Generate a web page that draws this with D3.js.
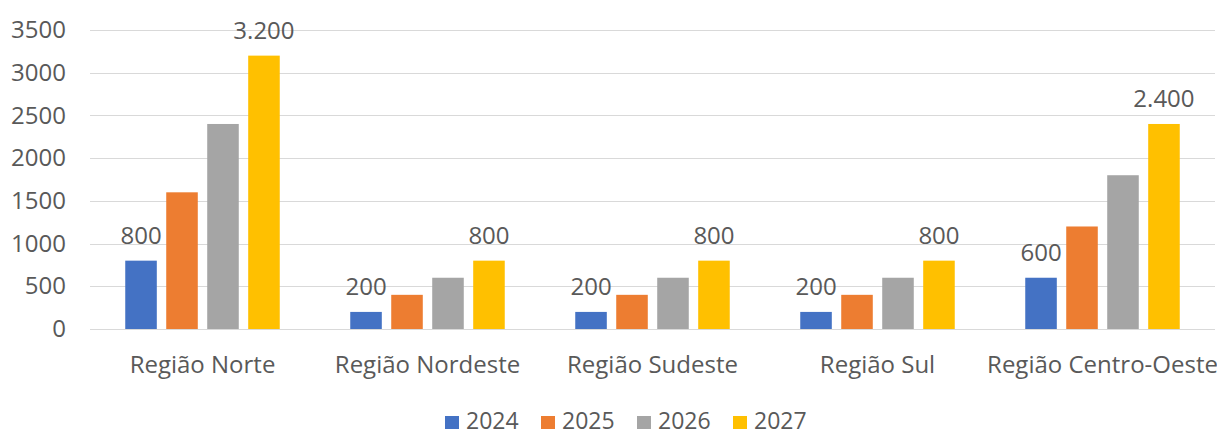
<!DOCTYPE html>
<html>
<head>
<meta charset="utf-8">
<script src="https://cdn.jsdelivr.net/npm/d3@7"></script>
<style>
  body { margin: 0; background: #fff; overflow: hidden; }
  text { font-family: "Open Sans", sans-serif; fill: #595959; }
</style>
</head>
<body>
<script>
var regioes = ["Região Norte", "Região Nordeste", "Região Sudeste", "Região Sul", "Região Centro-Oeste"];
var anos = ["2024", "2025", "2026", "2027"];
var v2024 = [800, 200, 200, 200, 600];
var v2025 = [1600, 400, 400, 400, 1200];
var v2026 = [2400, 600, 600, 600, 1800];
var v2027 = [3200, 800, 800, 800, 2400];
var yTicks = [0, 500, 1000, 1500, 2000, 2500, 3000, 3500];
var cores = ["#4472c4", "#ed7d31", "#a5a5a5", "#ffc000"];
var comRotulo = ["2024", "2027"];

var series = [v2024, v2025, v2026, v2027];

const w = 1217, h = 431;
const margin = { top: 30, right: 2, bottom: 102, left: 90 };

var svg = d3.select("body").append("svg")
  .attr("width", w)
  .attr("height", h);

var x0 = d3.scaleBand()
  .domain(regioes)
  .range([margin.left, w - margin.right])
  .padding(0);

var x1 = d3.scaleBand()
  .domain(anos)
  .range([0, x0.bandwidth()])
  .paddingInner(0.23)
  .paddingOuter(0.86);

var y = d3.scaleLinear()
  .domain([0, 3500])
  .range([h - margin.bottom, margin.top]);

// grid
svg.append("g")
  .selectAll("line")
  .data(yTicks)
  .enter()
  .append("line")
  .attr("x1", margin.left)
  .attr("x2", w - margin.right)
  .attr("y1", d => Math.round(y(d)) + 0.5)
  .attr("y2", d => Math.round(y(d)) + 0.5)
  .attr("stroke", "#d9d9d9")
  .attr("stroke-width", 1.2);

// eixo y
var yAxis = d3.axisLeft(y).tickValues(yTicks).tickFormat(d3.format("d")).tickSize(0).tickPadding(0);
var gy = svg.append("g")
  .attr("transform", "translate(66,0)")
  .call(yAxis);
gy.select(".domain").remove();
gy.selectAll("text")
  .attr("font-size", 24)
  .attr("font-family", "Open Sans, sans-serif")
  .attr("fill", "#595959");

// eixo x
var xAxis = d3.axisBottom(x0).tickSize(0).tickPadding(0);
var gx = svg.append("g")
  .attr("transform", "translate(0," + (h - margin.bottom) + ")")
  .call(xAxis);
gx.select(".domain").remove();
gx.selectAll("text")
  .attr("font-size", 24)
  .attr("font-family", "Open Sans, sans-serif")
  .attr("fill", "#595959")
  .attr("dy", 0)
  .attr("y", 44);

// barras
var grupos = svg.append("g")
  .selectAll("g")
  .data(regioes)
  .enter()
  .append("g")
  .attr("transform", d => "translate(" + x0(d) + ",0)");

grupos.selectAll("rect")
  .data((d, i) => anos.map((a, j) => ({ ano: a, valor: series[j][i], cor: cores[j] })))
  .enter()
  .append("rect")
  .attr("x", d => x1(d.ano))
  .attr("y", d => y(d.valor))
  .attr("width", x1.bandwidth())
  .attr("height", d => y(0) - y(d.valor))
  .attr("fill", d => d.cor);

var fmt = d3.formatLocale({ decimal: ",", thousands: ".", grouping: [3], currency: ["R$", ""] }).format(",d");

grupos.selectAll("text.rot")
  .data((d, i) => anos.map((a, j) => ({ ano: a, valor: series[j][i] })).filter(d => comRotulo.indexOf(d.ano) >= 0))
  .enter()
  .append("text")
  .attr("class", "rot")
  .attr("x", d => x1(d.ano) + x1.bandwidth() / 2)
  .attr("y", d => y(d.valor) - 17)
  .attr("text-anchor", "middle")
  .attr("font-size", 24)
  .attr("fill", "#404040")
  .text(d => fmt(d.valor));

// legenda
var legenda = svg.append("g")
  .selectAll("g")
  .data(anos)
  .enter()
  .append("g")
  .attr("transform", (d, i) => "translate(" + (445 + i * 96) + ",416)");

legenda.append("rect")
  .attr("width", 14)
  .attr("height", 13)
  .attr("fill", (d, i) => cores[i]);

legenda.append("text")
  .attr("x", 21)
  .attr("y", 13)
  .attr("font-size", 23)
  .attr("fill", "#595959")
  .text(d => d);
</script>
</body>
</html>
